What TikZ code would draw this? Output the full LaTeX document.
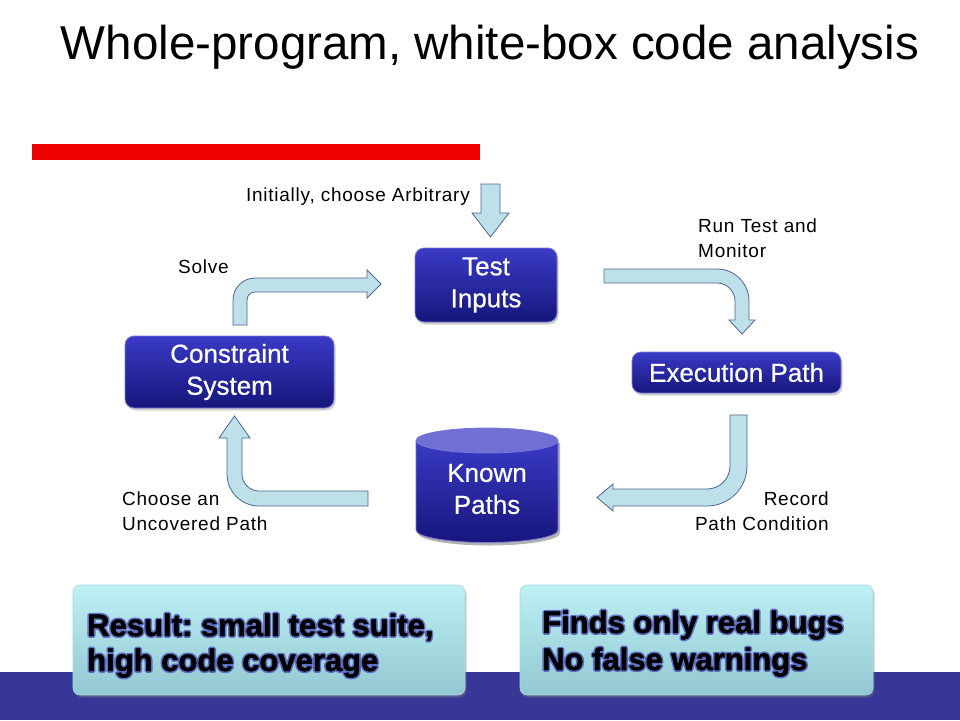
\documentclass[tikz,border=0pt]{standalone}
\usepackage{fontspec}
\setmainfont{Liberation Sans}
\usetikzlibrary{shadows}
\frenchspacing
\definecolor{boxtop}{RGB}{58,58,198}
\definecolor{boxbot}{RGB}{22,22,124}
\definecolor{boxrim}{RGB}{120,120,215}
\definecolor{arrfill}{RGB}{190,224,232}
\definecolor{arrline}{RGB}{80,100,150}
\definecolor{band}{RGB}{56,54,150}
\definecolor{restop}{RGB}{190,240,244}
\definecolor{resbot}{RGB}{146,200,210}
\definecolor{resrim}{RGB}{170,215,222}
\definecolor{glowc}{RGB}{66,66,180}
\definecolor{cyltop}{RGB}{112,112,212}
\definecolor{redbar}{RGB}{236,0,0}
\newfontfamily\labfont[LetterSpace=4]{Liberation Sans}
\newfontfamily\glowfont[FakeBold=12]{Liberation Sans}
\newfontfamily\resfont[FakeBold=1.5]{Liberation Sans}
\newfontfamily\boxfont[FakeBold=0.6]{Liberation Sans}
\tikzset{
  boxnode/.style={rounded corners=9pt, top color=boxtop, bottom color=boxbot,
    draw=boxrim, line width=0.8pt, text=white, align=center, inner sep=0pt,
    font=\boxfont\fontsize{26}{32}\selectfont,
    drop shadow={shadow xshift=1.5pt, shadow yshift=-2.5pt, opacity=0.35}},
  blockarrow/.style={fill=arrfill, draw=arrline, line width=0.8pt, line join=miter},
  lab/.style={font=\labfont\fontsize{19}{25}\selectfont, inner sep=0pt},
  resbox/.style={rounded corners=7pt, top color=restop, bottom color=resbot,
    draw=resrim, line width=0.6pt,
    drop shadow={shadow xshift=1.5pt, shadow yshift=-2.5pt, opacity=0.4}},
  restext/.style={anchor=base west, inner sep=0pt, line join=round,
    font=\resfont\fontsize{31}{36}\selectfont\bfseries},
  resglow/.style={anchor=base west, inner sep=0pt, text=glowc, text opacity=0.7,
    line join=round, font=\glowfont\fontsize{31}{36}\selectfont\bfseries},
}
\newcommand\glowline[3]{%
  \node[resglow] (#1g) at (#2) {#3};
  \node[restext] (#1) at (#2) {#3};}
\begin{document}
\begin{tikzpicture}[x=1pt,y=-1pt]
\useasboundingbox (0,0) rectangle (960,720);
\fill[white] (0,0) rectangle (960,720);
% band and red bar
\fill[band] (0,672) rectangle (960,720);
\fill[redbar] (32,144) rectangle (480,160);
% title
\node[anchor=base, inner sep=0pt, font=\fontsize{47.5}{50}\selectfont] (title) at (490,59) {Whole-program, white-box code analysis};

% boxes
\node[boxnode, minimum width=142pt, minimum height=74pt] (ti) at (486,285) {Test\\Inputs};
\node[boxnode, minimum width=209pt, minimum height=72pt] (cs) at (229.5,372) {Constraint\\System};
\node[boxnode, minimum width=209pt, minimum height=41pt] (ep) at (736.5,372.5) {Execution Path};

% cylinder
\begin{scope}
\fill[black, opacity=0.3] (418,443) -- (418,533) .. controls (418,539.9) and (449.2,545.5) .. (489,545.5) .. controls (528.8,545.5) and (560,539.9) .. (560,533) -- (560,443) -- cycle;
\path[top color=boxtop, bottom color=boxbot, draw=boxrim, line width=0.8pt]
  (416,440.5) -- (416,530) .. controls (416,536.9) and (447.2,542.5) .. (487,542.5)
  .. controls (526.8,542.5) and (558,536.9) .. (558,530) -- (558,440.5) -- cycle;
\path[fill=cyltop, draw=boxrim, line width=0.8pt] (487,440.5) ellipse [x radius=71, y radius=12.5];
\end{scope}
\node[text=white, align=center, inner sep=0pt, font=\boxfont\fontsize{26}{32}\selectfont] (kp) at (487,489) {Known\\Paths};

% block arrows
\path[blockarrow] (481,184) -- (500,184) -- (500,213) -- (509,213) -- (490.5,237) -- (472,213) -- (481,213) -- cycle;
\path[blockarrow] (233,325) -- (233,300) .. controls (233,287.9) and (242.9,278) .. (255,278)
  -- (367,278) -- (367,270) -- (381,284) -- (367,298) -- (367,292) -- (255,292)
  .. controls (250.6,292) and (247,295.6) .. (247,300) -- (247,325) -- cycle;
\path[blockarrow] (604,269) -- (717,269) .. controls (734.7,269) and (749,283.3) .. (749,301)
  -- (749,320) -- (755,320) -- (742,334) -- (729,320) -- (735,320) -- (735,301)
  .. controls (735,291.1) and (726.9,283) .. (717,283) -- (604,283) -- cycle;
\path[blockarrow] (730,415) -- (747,415) -- (747,466) .. controls (747,488.1) and (729.1,506) .. (707,506)
  -- (613,506) -- (613,511) -- (597,497.5) -- (613,484) -- (613,489) -- (707,489)
  .. controls (719.7,489) and (730,478.7) .. (730,466) -- cycle;
\path[blockarrow] (368,491) -- (259,491) .. controls (249.6,491) and (242,483.4) .. (242,474)
  -- (242,438) -- (250,438) -- (234.5,416) -- (219,438) -- (227,438) -- (227,474)
  .. controls (227,491.7) and (241.3,506) .. (259,506) -- (368,506) -- cycle;

% labels
\node[lab, anchor=base east] (l1) at (470,201) {Initially, choose Arbitrary};
\node[lab, anchor=base west] (l2) at (178,273) {Solve};
\node[lab, anchor=north west, align=left] (l3) at (698,219) {Run Test and\\Monitor};
\node[lab, anchor=north west, align=left] (l4) at (122,492) {Choose an\\Uncovered Path};
\node[lab, anchor=north east, align=right] (l5) at (829,492) {Record\\Path Condition};

% result boxes
\path[resbox] (73,585) rectangle (465,695);
\path[resbox] (520,585) rectangle (873,695);
\coordinate (r1) at (87,636);
\coordinate (r2) at (87,671);
\coordinate (r3) at (542,633);
\coordinate (r4) at (542,670);
\glowline{t1}{r1}{Result: small test suite,}
\glowline{t2}{r2}{high code coverage}
\glowline{t3}{r3}{Finds only real bugs}
\glowline{t4}{r4}{No false warnings}
\end{tikzpicture}
\end{document}
